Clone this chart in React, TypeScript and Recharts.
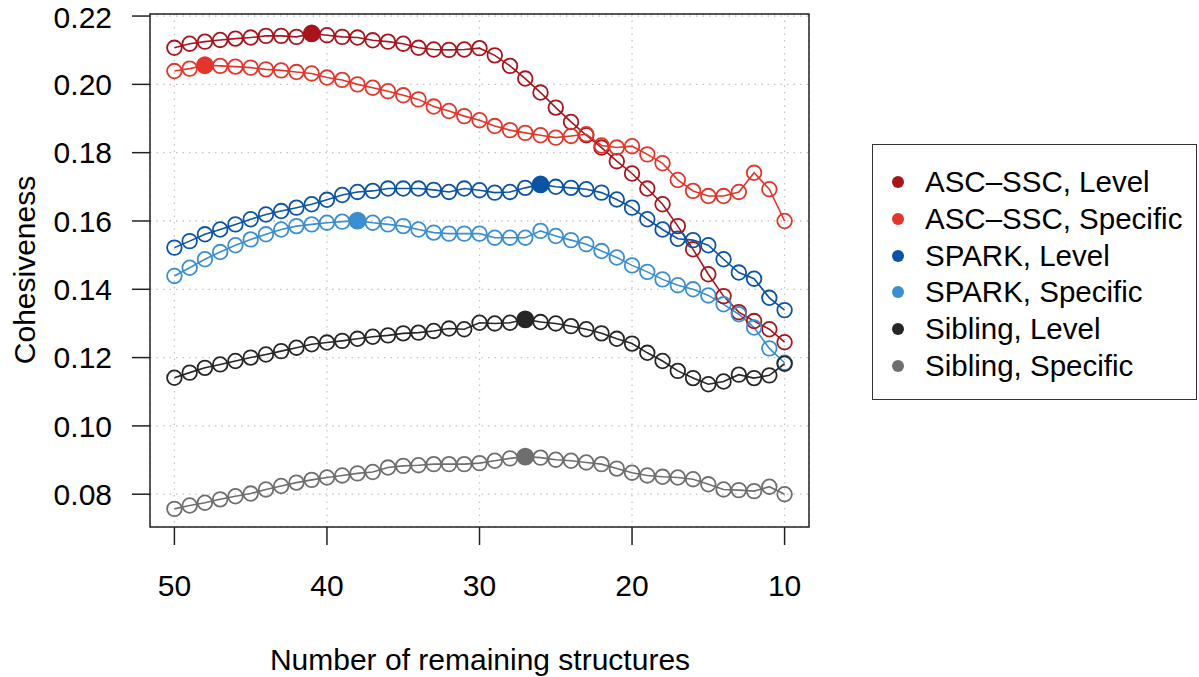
import React from 'react';
import { LineChart, Line, XAxis, YAxis, CartesianGrid, Legend, ReferenceArea } from 'recharts';

// x values: number of remaining structures, counted down from 50 to 10
const structures = [
  50, 49, 48, 47, 46, 45, 44, 43, 42, 41, 40, 39, 38, 37, 36, 35, 34, 33, 32, 31,
  30, 29, 28, 27, 26, 25, 24, 23, 22, 21, 20, 19, 18, 17, 16, 15, 14, 13, 12, 11, 10,
];

const ascLevel = [
  0.2107, 0.2119, 0.2125, 0.213, 0.2134, 0.2137, 0.2142, 0.2142, 0.2139, 0.2149,
  0.2144, 0.2139, 0.2137, 0.2129, 0.2125, 0.2119, 0.2107, 0.2102, 0.2101, 0.2102,
  0.2106, 0.2085, 0.2054, 0.2017, 0.1976, 0.1932, 0.189, 0.1851, 0.1815, 0.1775,
  0.1739, 0.1695, 0.1649, 0.1585, 0.1517, 0.1444, 0.138, 0.1333, 0.1307, 0.1283, 0.1245,
];

const ascSpecific = [
  0.2039, 0.2046, 0.2056, 0.2054, 0.2052, 0.2049, 0.2044, 0.2041, 0.2036, 0.2032,
  0.202, 0.2013, 0.2, 0.199, 0.198, 0.1968, 0.1956, 0.1935, 0.1922, 0.1907,
  0.1895, 0.1878, 0.1866, 0.1858, 0.1851, 0.1844, 0.1849, 0.1854, 0.1821, 0.1815,
  0.1819, 0.1795, 0.1769, 0.172, 0.1688, 0.1673, 0.1673, 0.1685, 0.1741, 0.1693, 0.16,
];

const sparkLevel = [
  0.1522, 0.1541, 0.1561, 0.1575, 0.159, 0.1605, 0.1619, 0.1629, 0.1639, 0.1649,
  0.1662, 0.1676, 0.1685, 0.1688, 0.1695, 0.1695, 0.1695, 0.1691, 0.1685, 0.1695,
  0.169, 0.1683, 0.1685, 0.1697, 0.1707, 0.17, 0.1697, 0.1693, 0.1683, 0.1663,
  0.1639, 0.1605, 0.1575, 0.1548, 0.1544, 0.1529, 0.1488, 0.1449, 0.1431, 0.1375, 0.1339,
];

const sparkSpecific = [
  0.1439, 0.1463, 0.1488, 0.1509, 0.1529, 0.1546, 0.1561, 0.1575, 0.1585, 0.159,
  0.1595, 0.1598, 0.1601, 0.1595, 0.159, 0.1585, 0.1575, 0.1566, 0.1563, 0.1563,
  0.1563, 0.1551, 0.1551, 0.1551, 0.1571, 0.1556, 0.1544, 0.1532, 0.1512, 0.1493,
  0.147, 0.1451, 0.1429, 0.1412, 0.14, 0.1382, 0.1356, 0.1327, 0.1288, 0.1227, 0.1185,
];

const siblingLevel = [
  0.1141, 0.1156, 0.117, 0.118, 0.119, 0.12, 0.1209, 0.1219, 0.1229, 0.1239,
  0.1244, 0.1249, 0.1255, 0.1261, 0.1265, 0.1271, 0.1273, 0.1278, 0.1285, 0.1283,
  0.1302, 0.13, 0.1302, 0.1312, 0.1304, 0.13, 0.1292, 0.1283, 0.1271, 0.1255,
  0.1241, 0.1214, 0.119, 0.1161, 0.114, 0.1122, 0.113, 0.115, 0.114, 0.1148, 0.1182,
];

const siblingSpecific = [
  0.0757, 0.0767, 0.0775, 0.0785, 0.0794, 0.0802, 0.0814, 0.0824, 0.0834, 0.0842,
  0.0849, 0.0855, 0.0861, 0.0865, 0.0878, 0.0883, 0.0885, 0.0888, 0.0888, 0.0888,
  0.0891, 0.0898, 0.0905, 0.091, 0.0907, 0.0901, 0.0898, 0.0893, 0.0888, 0.0875,
  0.0863, 0.0855, 0.0851, 0.0849, 0.0844, 0.0829, 0.0814, 0.0812, 0.0809, 0.0822, 0.08,
];

const xTicks = [50, 40, 30, 20, 10];
const yTicks = [0.08, 0.1, 0.12, 0.14, 0.16, 0.18, 0.2, 0.22];
const xDomain: [number, number] = [8.4, 51.6];
const yDomain: [number, number] = [0.0704, 0.2206];

const FONT = '"Liberation Sans", Arial, Helvetica, sans-serif';

const series = [
  { key: 'ascLevel', name: 'ASC\u2013SSC, Level', color: '#a8141c', values: ascLevel },
  { key: 'ascSpecific', name: 'ASC\u2013SSC, Specific', color: '#e2352b', values: ascSpecific },
  { key: 'sparkLevel', name: 'SPARK, Level', color: '#0b53a3', values: sparkLevel },
  { key: 'sparkSpecific', name: 'SPARK, Specific', color: '#3b8ecf', values: sparkSpecific },
  { key: 'siblingLevel', name: 'Sibling, Level', color: '#262626', values: siblingLevel },
  { key: 'siblingSpecific', name: 'Sibling, Specific', color: '#6e6e6e', values: siblingSpecific },
];

const data = structures.map((n, i) => {
  const row: Record<string, number> = { n };
  series.forEach((s) => {
    row[s.key] = s.values[i];
  });
  return row;
});

// index of the best value in each series gets a filled marker
const argMax = (arr: number[]) => arr.reduce((best, v, i) => (v > arr[best] ? i : best), 0);

const makeDot = (color: string, peak: number) => (props: any) => {
  const { cx, cy, index } = props;
  if (cx == null || cy == null) return <g key={index} />;
  const filled = index === peak;
  return (
    <circle
      key={index}
      cx={cx}
      cy={cy}
      r={filled ? 8 : 7.3}
      fill={filled ? color : 'none'}
      stroke={color}
      strokeWidth={1.8}
    />
  );
};

const renderLegend = () => (
  <div
    style={{
      boxSizing: 'border-box',
      width: 325,
      height: 256,
      border: '1.5px solid #333',
      background: '#fff',
      paddingTop: 19,
      fontFamily: FONT,
      fontSize: 29.5,
      color: '#000',
    }}
  >
    {series.map((s) => (
      <div key={s.key} style={{ display: 'flex', alignItems: 'center', height: 36.7 }}>
        <span
          style={{
            display: 'inline-block',
            width: 12,
            height: 12,
            borderRadius: '50%',
            background: s.color,
            marginLeft: 19,
          }}
        />
        <span style={{ marginLeft: 21, whiteSpace: 'nowrap' }}>{s.name}</span>
      </div>
    ))}
  </div>
);

const tickStyle = { fill: '#000', fontSize: 30, fontFamily: FONT };

const App = () => {
  return (
    <div style={{ position: 'absolute', left: 0, top: 0, width: 1199, height: 677, background: '#fff' }}>
      <LineChart
        width={1199}
        height={677}
        data={data}
        margin={{ top: 14, right: 390, bottom: 0, left: 0 }}
      >
        <CartesianGrid stroke="#c4c4c4" strokeDasharray="1.5 5" strokeWidth={1.3} />
        <XAxis
          dataKey="n"
          type="number"
          domain={xDomain}
          reversed
          ticks={xTicks}
          allowDataOverflow
          height={150}
          axisLine={false}
          tickSize={18}
          tickMargin={30}
          tickLine={{ stroke: '#222', strokeWidth: 1.5 }}
          tick={tickStyle}
        />
        <YAxis
          type="number"
          domain={yDomain}
          ticks={yTicks}
          allowDataOverflow
          width={150}
          axisLine={false}
          tickSize={18}
          tickMargin={20}
          tickLine={{ stroke: '#222', strokeWidth: 1.5 }}
          tick={tickStyle}
          tickFormatter={(v: number) => v.toFixed(2)}
        />
        <ReferenceArea
          x1={xDomain[0]}
          x2={xDomain[1]}
          y1={yDomain[0]}
          y2={yDomain[1]}
          fill="none"
          fillOpacity={0}
          stroke="#222"
          strokeWidth={1.5}
          ifOverflow="visible"
        />
        {series.map((s) => (
          <Line
            key={s.key}
            dataKey={s.key}
            name={s.name}
            type="linear"
            stroke={s.color}
            strokeWidth={1.6}
            dot={makeDot(s.color, argMax(s.values))}
            activeDot={false}
            isAnimationActive={false}
          />
        ))}
        <Legend
          content={renderLegend}
          layout="horizontal"
          verticalAlign="middle"
          align="center"
          wrapperStyle={{ position: 'absolute', left: 872, top: 144, width: 325, height: 256 }}
        />
      </LineChart>
      <svg
        width={1199}
        height={677}
        style={{ position: 'absolute', left: 0, top: 0, pointerEvents: 'none' }}
      >
        <text x={480} y={670} textAnchor="middle" fontSize={30} fontFamily={FONT} fill="#000">
          Number of remaining structures
        </text>
        <text
          transform="translate(35,270) rotate(-90)"
          textAnchor="middle"
          fontSize={30}
          fontFamily={FONT}
          fill="#000"
        >
          Cohesiveness
        </text>
      </svg>
    </div>
  );
};

export default App;
